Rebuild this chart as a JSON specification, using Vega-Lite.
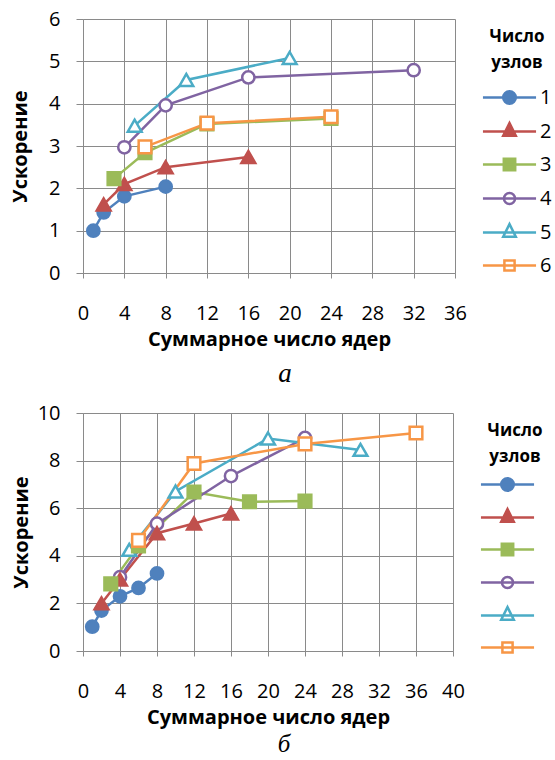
{
  "$schema": "https://vega.github.io/schema/vega-lite/v6.json",
  "padding": {"left": 10, "top": 9, "right": 0, "bottom": 0},
  "spacing": 16,
  "resolve": {"scale": {"stroke": "independent", "fill": "independent", "shape": "independent"}, "legend": {"stroke": "independent", "fill": "independent", "shape": "independent"}},
  "datasets": {
    "a": [
      {"g": "1", "n": 1, "s": 1.0}, {"g": "1", "n": 2, "s": 1.43}, {"g": "1", "n": 4, "s": 1.81}, {"g": "1", "n": 8, "s": 2.04},
      {"g": "2", "n": 2, "s": 1.62}, {"g": "2", "n": 4, "s": 2.1}, {"g": "2", "n": 8, "s": 2.5}, {"g": "2", "n": 16, "s": 2.74},
      {"g": "3", "n": 3, "s": 2.23}, {"g": "3", "n": 6, "s": 2.84}, {"g": "3", "n": 12, "s": 3.52}, {"g": "3", "n": 24, "s": 3.65},
      {"g": "4", "n": 4, "s": 2.97}, {"g": "4", "n": 8, "s": 3.96}, {"g": "4", "n": 16, "s": 4.62}, {"g": "4", "n": 32, "s": 4.79},
      {"g": "5", "n": 5, "s": 3.48}, {"g": "5", "n": 10, "s": 4.56}, {"g": "5", "n": 20, "s": 5.08},
      {"g": "6", "n": 6, "s": 2.98}, {"g": "6", "n": 12, "s": 3.54}, {"g": "6", "n": 24, "s": 3.69}
    ],
    "b": [
      {"g": "1", "n": 1, "s": 1.02}, {"g": "1", "n": 2, "s": 1.7}, {"g": "1", "n": 4, "s": 2.3}, {"g": "1", "n": 6, "s": 2.65}, {"g": "1", "n": 8, "s": 3.26},
      {"g": "2", "n": 2, "s": 2.0}, {"g": "2", "n": 4, "s": 3.0}, {"g": "2", "n": 8, "s": 4.95}, {"g": "2", "n": 12, "s": 5.36}, {"g": "2", "n": 16, "s": 5.78},
      {"g": "3", "n": 3, "s": 2.82}, {"g": "3", "n": 6, "s": 4.42}, {"g": "3", "n": 12, "s": 6.68}, {"g": "3", "n": 18, "s": 6.27}, {"g": "3", "n": 24, "s": 6.3},
      {"g": "4", "n": 4, "s": 3.1}, {"g": "4", "n": 8, "s": 5.35}, {"g": "4", "n": 16, "s": 7.35}, {"g": "4", "n": 24, "s": 8.95},
      {"g": "5", "n": 5, "s": 4.25}, {"g": "5", "n": 10, "s": 6.7}, {"g": "5", "n": 20, "s": 8.93}, {"g": "5", "n": 30, "s": 8.45},
      {"g": "6", "n": 6, "s": 4.65}, {"g": "6", "n": 12, "s": 7.88}, {"g": "6", "n": 24, "s": 8.7}, {"g": "6", "n": 36, "s": 9.16}
    ]
  },
  "vconcat": [
    {
      "width": 372,
      "height": 254,
      "data": {"name": "a"},
      "title": {"text": "а", "orient": "bottom", "font": "Liberation Serif", "fontStyle": "italic", "fontWeight": "normal", "fontSize": 27, "dx": 16, "offset": 12, "color": "#000000"},
      "encoding": {
        "x": {"field": "n", "type": "quantitative", "scale": {"domain": [0, 36], "nice": false},
              "axis": {"values": [0, 4, 8, 12, 16, 20, 24, 28, 32, 36], "title": "Суммарное число ядер", "labelPadding": 25, "tickSize": 5, "titlePadding": 6, "labelFlush": false,
                       "grid": true, "domain": true, "ticks": true, "gridColor": "#8a8a8a", "domainColor": "#8a8a8a", "tickColor": "#8a8a8a"}},
        "y": {"field": "s", "type": "quantitative", "scale": {"domain": [0, 6], "nice": false},
              "axis": {"values": [0, 1, 2, 3, 4, 5, 6], "title": "Ускорение", "tickSize": 7, "labelPadding": 16, "titlePadding": 18,
                       "grid": true, "domain": true, "ticks": true, "gridColor": "#8a8a8a", "domainColor": "#8a8a8a", "tickColor": "#8a8a8a"}}
      },
      "layer": [
        {"mark": {"type": "point", "opacity": 0},
         "encoding": {
           "stroke": {"field": "g", "type": "nominal", "scale": {"domain": ["1","2","3","4","5","6"], "range": ["#4F81BD","#C0504D","#9BBB59","#8064A2","#4BACC6","#F79646"]}, "legend": {"title": ["Число", "узлов"], "rowPadding": 6, "titlePadding": 9}},
           "fill": {"field": "g", "type": "nominal", "scale": {"domain": ["1","2","3","4","5","6"], "range": ["#4F81BD","#C0504D","#9BBB59","#ffffff","#ffffff","#ffffff"]}, "legend": {"title": ["Число", "узлов"], "rowPadding": 6, "titlePadding": 9}},
           "shape": {"field": "g", "type": "nominal", "scale": {"domain": ["1","2","3","4","5","6"], "range": [
             "M-1.77,0H1.77M0.42,0A0.42,0.42,0,1,1,-0.42,0A0.42,0.42,0,1,1,0.42,0Z",
             "M-1.77,0H1.77M0,-0.56L0.42,0.28L-0.42,0.28Z",
             "M-1.77,0H1.77M-0.38,-0.38H0.38V0.38H-0.38Z",
             "M-1.77,0H1.77M0.37,0A0.37,0.37,0,1,1,-0.37,0A0.37,0.37,0,1,1,0.37,0Z",
             "M-1.77,0H1.77M0,-0.56L0.42,0.28L-0.42,0.28Z",
             "M-1.77,0H1.77M-0.34,-0.34H0.34V0.34H-0.34Z"]}, "legend": {"title": ["Число", "узлов"], "rowPadding": 6, "titlePadding": 9}}
         }},
        {"mark": {"type": "line", "strokeWidth": 2.5}, "encoding": {"stroke": {"field": "g", "type": "nominal"}}},
        {"transform": [{"filter": "datum.g === '1' || datum.g === '4'"}], "mark": {"type": "point", "shape": "circle", "size": 150, "strokeWidth": 2.5, "opacity": 1},
         "encoding": {"stroke": {"field": "g", "type": "nominal"}, "fill": {"field": "g", "type": "nominal"}}},
        {"transform": [{"filter": "datum.g === '2' || datum.g === '5'"}], "mark": {"type": "point", "shape": "triangle-up", "size": 190, "strokeWidth": 2.5, "opacity": 1},
         "encoding": {"stroke": {"field": "g", "type": "nominal"}, "fill": {"field": "g", "type": "nominal"}}},
        {"transform": [{"filter": "datum.g === '3' || datum.g === '6'"}], "mark": {"type": "point", "shape": "square", "size": 160, "strokeWidth": 2.5, "opacity": 1},
         "encoding": {"stroke": {"field": "g", "type": "nominal"}, "fill": {"field": "g", "type": "nominal"}}}
      ]
    },
    {
      "width": 370,
      "height": 238,
      "data": {"name": "b"},
      "title": {"text": "б", "orient": "bottom", "font": "Liberation Serif", "fontStyle": "italic", "fontWeight": "normal", "fontSize": 25, "dx": 16, "offset": 5, "color": "#000000"},
      "encoding": {
        "x": {"field": "n", "type": "quantitative", "scale": {"domain": [0, 40], "nice": false},
              "axis": {"values": [0, 4, 8, 12, 16, 20, 24, 28, 32, 36, 40], "title": "Суммарное число ядер", "labelPadding": 25, "tickSize": 5, "titlePadding": 6, "labelFlush": false,
                       "grid": true, "domain": true, "ticks": true, "gridColor": "#8a8a8a", "domainColor": "#8a8a8a", "tickColor": "#8a8a8a"}},
        "y": {"field": "s", "type": "quantitative", "scale": {"domain": [0, 10], "nice": false},
              "axis": {"values": [0, 2, 4, 6, 8, 10], "title": "Ускорение", "tickSize": 7, "labelPadding": 16, "titlePadding": 6,
                       "grid": true, "domain": true, "ticks": true, "gridColor": "#8a8a8a", "domainColor": "#8a8a8a", "tickColor": "#8a8a8a"}}
      },
      "layer": [
        {"mark": {"type": "point", "opacity": 0},
         "encoding": {
           "stroke": {"field": "g", "type": "nominal", "scale": {"domain": ["1","2","3","4","5","6"], "range": ["#4F81BD","#C0504D","#9BBB59","#8064A2","#4BACC6","#F79646"]}, "legend": {"title": ["Число", "узлов"], "labelColor": "#ffffff", "rowPadding": 5, "titlePadding": 2}},
           "fill": {"field": "g", "type": "nominal", "scale": {"domain": ["1","2","3","4","5","6"], "range": ["#4F81BD","#C0504D","#9BBB59","#ffffff","#ffffff","#ffffff"]}, "legend": {"title": ["Число", "узлов"], "labelColor": "#ffffff", "rowPadding": 5, "titlePadding": 2}},
           "shape": {"field": "g", "type": "nominal", "scale": {"domain": ["1","2","3","4","5","6"], "range": [
             "M-1.77,0H1.77M0.42,0A0.42,0.42,0,1,1,-0.42,0A0.42,0.42,0,1,1,0.42,0Z",
             "M-1.77,0H1.77M0,-0.56L0.42,0.28L-0.42,0.28Z",
             "M-1.77,0H1.77M-0.38,-0.38H0.38V0.38H-0.38Z",
             "M-1.77,0H1.77M0.37,0A0.37,0.37,0,1,1,-0.37,0A0.37,0.37,0,1,1,0.37,0Z",
             "M-1.77,0H1.77M0,-0.56L0.42,0.28L-0.42,0.28Z",
             "M-1.77,0H1.77M-0.34,-0.34H0.34V0.34H-0.34Z"]}, "legend": {"title": ["Число", "узлов"], "labelColor": "#ffffff", "rowPadding": 5, "titlePadding": 2}}
         }},
        {"mark": {"type": "line", "strokeWidth": 2.5}, "encoding": {"stroke": {"field": "g", "type": "nominal"}}},
        {"transform": [{"filter": "datum.g === '1' || datum.g === '4'"}], "mark": {"type": "point", "shape": "circle", "size": 150, "strokeWidth": 2.5, "opacity": 1},
         "encoding": {"stroke": {"field": "g", "type": "nominal"}, "fill": {"field": "g", "type": "nominal"}}},
        {"transform": [{"filter": "datum.g === '2' || datum.g === '5'"}], "mark": {"type": "point", "shape": "triangle-up", "size": 190, "strokeWidth": 2.5, "opacity": 1},
         "encoding": {"stroke": {"field": "g", "type": "nominal"}, "fill": {"field": "g", "type": "nominal"}}},
        {"transform": [{"filter": "datum.g === '3' || datum.g === '6'"}], "mark": {"type": "point", "shape": "square", "size": 160, "strokeWidth": 2.5, "opacity": 1},
         "encoding": {"stroke": {"field": "g", "type": "nominal"}, "fill": {"field": "g", "type": "nominal"}}}
      ]
    }
  ],
  "config": {
    "view": {"stroke": null},
    "axis": {"labelFont": "Open Sans", "labelFontSize": 20, "labelColor": "#000000", "titleFont": "Open Sans", "titleFontSize": 20, "titleFontWeight": "bold", "titleColor": "#000000"},
    "legend": {"symbolSize": 900, "symbolStrokeWidth": 2.5, "symbolOpacity": 1, "symbolOffset": 10, "labelFont": "Open Sans", "labelFontSize": 20, "labelColor": "#000000",
               "titleFont": "Open Sans", "titleFontSize": 17, "titleFontWeight": "bold", "titleColor": "#000000", "titleLineHeight": 26, "titleAlign": "center", "titleAnchor": "middle",
               "offset": 18, "padding": 10, "labelOffset": 14}
  }
}
